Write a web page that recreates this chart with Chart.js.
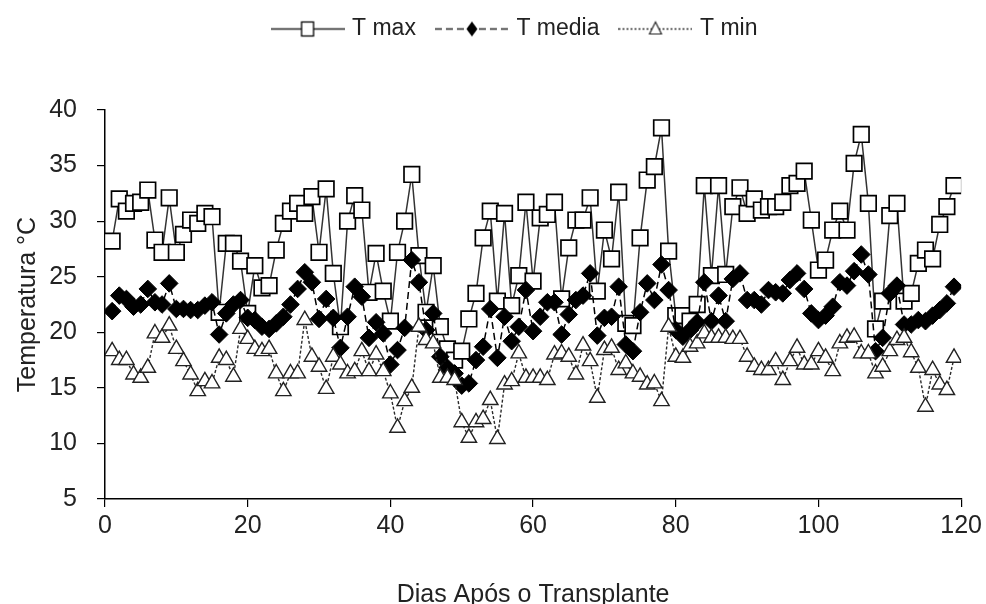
<!DOCTYPE html>
<html>
<head>
<meta charset="utf-8">
<script src="https://cdn.jsdelivr.net/npm/chart.js@4.4.0/dist/chart.umd.min.js"></script>
<style>
  html, body { margin: 0; padding: 0; background: #ffffff; }
  #wrap { width: 986px; height: 604px; }
</style>
</head>
<body>
<div id="wrap"><canvas id="c" width="986" height="604"></canvas></div>
<script>
// ---------------- data ----------------
const days = [
  1,2,3,4,5,6,7,8,9,10,11,12,13,14,15,16,17,18,19,20,
  21,22,23,24,25,26,27,28,29,30,31,32,33,34,35,36,37,38,39,40,
  41,42,43,44,45,46,47,48,49,50,51,52,53,54,55,56,57,58,59,60,
  61,62,63,64,65,66,67,68,69,70,71,72,73,74,75,76,77,78,79,80,
  81,82,83,84,85,86,87,88,89,90,91,92,93,94,95,96,97,98,99,100,
  101,102,103,104,105,106,107,108,109,110,111,112,113,114,115,116,117,118,119
];
const tMax = [
  28.2, 32.0, 30.9, 31.6, 31.7, 32.8, 28.3, 27.2, 32.1, 27.2,
  28.8, 30.1, 29.8, 30.7, 30.4, 21.8, 28.0, 28.0, 26.4, 21.7,
  26.0, 24.0, 24.2, 27.4, 29.8, 30.9, 31.6, 30.7, 32.2, 27.2,
  32.9, 25.3, 20.5, 30.0, 32.3, 31.0, 23.6, 27.1, 23.7, 21.0,
  27.2, 30.0, 34.2, 26.9, 21.8, 26.0, 20.5, 18.5, 17.5, 18.3,
  21.2, 23.5, 28.5, 30.9, 22.8, 30.7, 22.4, 25.1, 31.7, 24.6,
  30.3, 30.6, 31.7, 23.0, 27.6, 30.1, 30.1, 32.1, 23.7, 29.2,
  26.6, 32.6, 20.8, 20.6, 28.5, 33.7, 34.9, 38.4, 27.3, 21.5,
  21.5, 21.0, 22.5, 33.2, 25.1, 33.2, 25.2, 31.3, 33.0, 30.7,
  32.0, 31.0, 31.3, 31.3, 31.7, 33.2, 33.4, 34.5, 30.1, 25.6,
  26.5, 29.2, 30.9, 29.2, 35.2, 37.8, 31.6, 20.3, 22.8, 30.5,
  31.6, 22.8, 23.5, 26.2, 27.4, 26.6, 29.7, 31.3, 33.2
];
const tMedia = [
  21.9, 23.3, 23.0, 22.3, 22.5, 23.9, 22.7, 22.5, 24.4, 22.1,
  22.1, 22.0, 22.0, 22.4, 22.7, 19.8, 21.7, 22.5, 22.9, 21.3,
  21.1, 20.5, 20.3, 20.8, 21.4, 22.5, 23.9, 25.4, 24.5, 21.2,
  23.0, 21.3, 18.6, 21.4, 24.1, 23.2, 19.5, 20.9, 19.9, 17.1,
  18.4, 20.4, 26.5, 24.5, 20.2, 21.7, 17.8, 16.8, 16.3, 15.2,
  15.4, 17.5, 18.7, 22.1, 17.7, 21.4, 19.2, 20.5, 23.8, 20.1,
  21.4, 22.7, 22.7, 19.8, 21.6, 22.9, 23.3, 25.3, 19.7, 21.3,
  21.4, 24.1, 18.9, 18.3, 21.8, 24.4, 22.9, 26.1, 23.8, 20.2,
  19.6, 20.2, 20.9, 24.5, 21.0, 23.3, 21.0, 24.8, 25.3, 22.9,
  22.9, 22.5, 23.8, 23.6, 23.5, 24.7, 25.3, 23.9, 21.7, 21.1,
  21.5, 22.3, 24.5, 24.2, 25.5, 27.0, 25.2, 18.3, 19.5, 23.5,
  24.2, 20.7, 20.7, 21.1, 21.0, 21.5, 22.0, 22.6, 24.1
];
const tMin = [
  18.3, 17.5, 17.5, 16.2, 15.9, 16.8, 19.9, 19.5, 20.6, 18.5,
  17.4, 16.2, 14.7, 15.6, 15.4, 17.7, 17.5, 16.0, 20.3, 19.4,
  18.5, 18.3, 18.5, 16.3, 14.7, 16.3, 16.3, 21.1, 17.8, 16.9,
  14.9, 17.8, 17.1, 16.3, 16.5, 18.3, 16.5, 18.0, 16.5, 14.5,
  11.4, 13.8, 15.0, 20.5, 19.3, 19.0, 15.9, 15.9, 15.7, 11.9,
  10.5, 11.9, 12.2, 13.9, 10.4, 15.3, 15.6, 18.1, 15.9, 15.9,
  15.9, 15.7, 18.0, 18.1, 17.8, 16.2, 18.8, 17.4, 14.1, 18.4,
  18.6, 16.6, 17.2, 16.3, 16.0, 15.3, 15.4, 13.8, 20.5, 17.8,
  17.7, 18.7, 19.0, 19.9, 19.5, 19.5, 19.5, 19.4, 19.4, 17.8,
  16.9, 16.6, 16.6, 17.4, 15.7, 17.4, 18.6, 17.1, 17.1, 18.3,
  17.7, 16.5, 19.0, 19.5, 19.6, 18.1, 18.1, 16.3, 16.9, 18.3,
  19.3, 19.5, 18.2, 16.8, 13.3, 16.6, 15.3, 14.8, 17.7
];
const seriesNames = ['T max', 'T media', 'T min'];
const xTicks = [0, 20, 40, 60, 80, 100, 120];
const yTicks = [5, 10, 15, 20, 25, 30, 35, 40];
const xTitle = 'Dias Após o Transplante';
const yTitle = 'Temperatura °C';

// ---------------- styling ----------------
const FONT = "'Liberation Sans', Arial, sans-serif";
const TXT = '#222222';

function toPoints(vals) { return vals.map((v, i) => ({ x: days[i], y: v })); }

function legendSample(kind) {
  const c = document.createElement('canvas');
  c.width = 74; c.height = 22;
  const g = c.getContext('2d');
  const cy = 11.5, cx = 37;
  g.lineWidth = 1.4;
  g.strokeStyle = '#222';
  g.setLineDash(kind === 'max' ? [] : (kind === 'media' ? [7, 4] : [2, 2]));
  g.beginPath(); g.moveTo(0, cy); g.lineTo(74, cy); g.stroke();
  g.setLineDash([]);
  if (kind === 'max') {
    g.fillStyle = '#fff'; g.fillRect(cx - 6, cy - 7, 12, 14);
    g.strokeStyle = '#000'; g.lineWidth = 1.3; g.strokeRect(cx - 6, cy - 7, 12, 14);
  } else if (kind === 'media') {
    g.fillStyle = '#000';
    g.beginPath(); g.moveTo(cx, cy - 7.5); g.lineTo(cx + 5.5, cy); g.lineTo(cx, cy + 7.5); g.lineTo(cx - 5.5, cy); g.closePath(); g.fill();
  } else {
    g.fillStyle = '#fff'; g.strokeStyle = '#222'; g.lineWidth = 1.2;
    g.beginPath(); g.moveTo(cx, cy - 7); g.lineTo(cx + 6, cy + 5); g.lineTo(cx - 6, cy + 5); g.closePath(); g.fill(); g.stroke();
  }
  return c;
}
const legendImgs = [legendSample('max'), legendSample('media'), legendSample('min')];

const LEGEND_H = 110;
const LEGEND_DX = 34;
const LEGEND_DY = -6;

const legendPlace = {
  id: 'legendPlace',
  beforeUpdate(chart) {
    const lg = chart.legend;
    if (lg && !lg._patched) {
      const fit = lg.fit;
      lg.fit = function () { fit.call(this); this.height = LEGEND_H; };
      lg._patched = true;
    }
  },
  afterLayout(chart) {
    const lg = chart.legend;
    if (!lg) return;
    lg.top += LEGEND_DY; lg.bottom += LEGEND_DY;
    lg.left += LEGEND_DX; lg.right += LEGEND_DX;
  }
};

new Chart(document.getElementById('c'), {
  type: 'line',
  data: {
    datasets: [
      {
        label: seriesNames[0],
        data: toPoints(tMax),
        order: 3,
        borderColor: '#333333',
        borderWidth: 1.5,
        pointStyle: 'rect',
        pointRadius: 11,
        pointBackgroundColor: '#ffffff',
        pointBorderColor: '#000000',
        pointBorderWidth: 1.7,
        tension: 0
      },
      {
        label: seriesNames[1],
        data: toPoints(tMedia),
        order: 2,
        borderColor: '#000000',
        borderWidth: 1.5,
        borderDash: [7, 4],
        pointStyle: 'rectRot',
        pointRadius: 8.8,
        pointBackgroundColor: '#000000',
        pointBorderColor: '#000000',
        pointBorderWidth: 1,
        tension: 0
      },
      {
        label: seriesNames[2],
        data: toPoints(tMin),
        order: 1,
        borderColor: '#2a2a2a',
        borderWidth: 1.4,
        borderDash: [3, 2],
        pointStyle: 'triangle',
        pointRadius: 8.9,
        pointBackgroundColor: '#ffffff',
        pointBorderColor: '#222222',
        pointBorderWidth: 1.4,
        tension: 0
      }
    ]
  },
  options: {
    responsive: false,
    animation: false,
    devicePixelRatio: 1,
    events: [],
    layout: { padding: { top: 0, right: 22, bottom: 0, left: 0 } },
    plugins: {
      tooltip: { enabled: false },
      title: { display: false },
      legend: {
        display: true,
        position: 'top',
        align: 'center',
        labels: {
          usePointStyle: true,
          pointStyleWidth: 66,
          padding: 23,
          color: TXT,
          font: { family: FONT, size: 23 },
          generateLabels: () => seriesNames.map((name, i) => ({
            text: name,
            pointStyle: legendImgs[i],
            fillStyle: '#000',
            strokeStyle: '#000',
            lineWidth: 0,
            hidden: false,
            datasetIndex: i,
            fontColor: TXT
          }))
        }
      }
    },
    scales: {
      x: {
        type: 'linear',
        min: 0,
        max: 120,
        afterBuildTicks: s => { s.ticks = xTicks.map(v => ({ value: v })); },
        afterFit: s => { s.height = 105; },
        grid: { display: true, drawOnChartArea: false, drawTicks: true, tickLength: 8, color: '#000', lineWidth: 1.2 },
        border: { display: true, color: '#000', width: 1.5 },
        ticks: { color: TXT, font: { family: FONT, size: 25 }, padding: 4, maxRotation: 0, autoSkip: false },
        title: { display: true, text: xTitle, color: TXT, font: { family: FONT, size: 25, lineHeight: 0.72 }, padding: { top: 0, bottom: 0 } }
      },
      y: {
        type: 'linear',
        min: 5,
        max: 40,
        afterBuildTicks: s => { s.ticks = yTicks.map(v => ({ value: v })); },
        afterFit: s => { s.width = 105; },
        grid: { display: true, drawOnChartArea: false, drawTicks: true, tickLength: 8, color: '#000', lineWidth: 1.2 },
        border: { display: true, color: '#000', width: 1.5 },
        ticks: { color: TXT, font: { family: FONT, size: 25 }, padding: 20, autoSkip: false },
        title: { display: true, text: yTitle, color: TXT, font: { family: FONT, size: 25, lineHeight: 1.0 }, padding: { top: 16, bottom: 0 } }
      }
    }
  },
  plugins: [legendPlace]
});
</script>
</body>
</html>
